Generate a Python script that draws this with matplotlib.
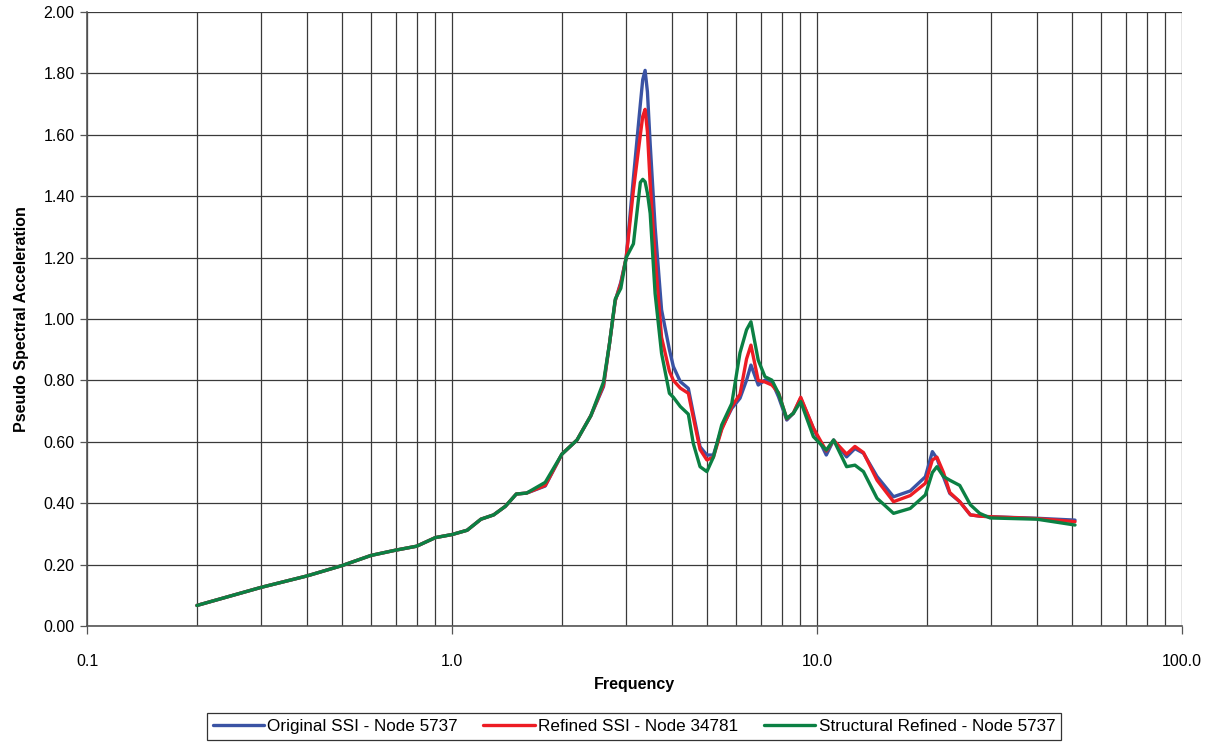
"""Pseudo spectral acceleration vs frequency for three model variants."""

import matplotlib

matplotlib.use("Agg")
import matplotlib.pyplot as plt
from matplotlib.ticker import FixedLocator, FormatStrFormatter, LogLocator, NullFormatter

# ---------------------------------------------------------------------------
# Data
# ---------------------------------------------------------------------------
FREQ = [
    0.2, 0.3, 0.4, 0.5, 0.6, 0.7, 0.8, 0.9, 1.0, 1.1, 1.2, 1.3, 1.4, 1.5, 1.6,
    1.8, 2.0, 2.2, 2.4, 2.6, 2.7, 2.8, 2.9, 3.0, 3.14, 3.28, 3.33, 3.38, 3.43,
    3.49, 3.6, 3.75, 3.94, 4.04, 4.22, 4.44, 4.58, 4.78, 4.99, 5.2, 5.48, 5.84,
    6.15, 6.41, 6.59, 6.9, 7.2, 7.52, 7.84, 8.26, 8.61, 9.02, 9.77, 10.6, 11.1,
    12.05, 12.7, 13.4, 14.6, 16.2, 18.0, 19.8, 20.7, 21.3, 22.2, 23.1, 24.6,
    26.3, 27.9, 29.8, 40.0, 50.9,
]

ORIGINAL_SSI = [
    0.067, 0.126, 0.163, 0.197, 0.230, 0.247, 0.260, 0.288, 0.298, 0.312, 0.348,
    0.362, 0.390, 0.430, 0.433, 0.456, 0.560, 0.606, 0.685, 0.780, 0.920, 1.060,
    1.120, 1.200, 1.460, 1.700, 1.780, 1.810, 1.740, 1.570, 1.300, 1.030, 0.900,
    0.845, 0.796, 0.774, 0.693, 0.584, 0.557, 0.557, 0.644, 0.709, 0.742, 0.801,
    0.850, 0.785, 0.801, 0.796, 0.747, 0.671, 0.693, 0.742, 0.644, 0.557, 0.606,
    0.551, 0.578, 0.563, 0.487, 0.421, 0.440, 0.486, 0.568, 0.546, 0.486, 0.432,
    0.405, 0.362, 0.358, 0.356, 0.351, 0.345,
]

REFINED_SSI = [
    0.067, 0.126, 0.163, 0.197, 0.230, 0.247, 0.260, 0.288, 0.298, 0.312, 0.348,
    0.362, 0.390, 0.430, 0.433, 0.458, 0.560, 0.606, 0.685, 0.785, 0.920, 1.060,
    1.115, 1.200, 1.420, 1.600, 1.660, 1.683, 1.610, 1.440, 1.200, 0.940, 0.830,
    0.800, 0.775, 0.758, 0.680, 0.575, 0.541, 0.550, 0.640, 0.715, 0.755, 0.870,
    0.915, 0.800, 0.795, 0.785, 0.760, 0.675, 0.693, 0.745, 0.645, 0.570, 0.605,
    0.560, 0.585, 0.565, 0.475, 0.405, 0.425, 0.465, 0.541, 0.550, 0.500, 0.435,
    0.405, 0.362, 0.358, 0.356, 0.350, 0.340,
]

STRUCTURAL_REFINED = [
    0.067, 0.126, 0.163, 0.197, 0.230, 0.247, 0.260, 0.288, 0.298, 0.312, 0.348,
    0.362, 0.390, 0.430, 0.433, 0.468, 0.560, 0.606, 0.685, 0.795, 0.920, 1.065,
    1.100, 1.200, 1.245, 1.445, 1.455, 1.447, 1.410, 1.344, 1.083, 0.888, 0.758,
    0.745, 0.715, 0.690, 0.595, 0.519, 0.503, 0.550, 0.655, 0.725, 0.890, 0.965,
    0.991, 0.866, 0.812, 0.801, 0.758, 0.676, 0.693, 0.731, 0.617, 0.573, 0.606,
    0.519, 0.524, 0.503, 0.416, 0.367, 0.383, 0.427, 0.500, 0.519, 0.487, 0.475,
    0.458, 0.395, 0.367, 0.352, 0.348, 0.329,
]

SERIES = [
    ("Original SSI - Node 5737", ORIGINAL_SSI, "#3a53a4"),
    ("Refined SSI - Node 34781", REFINED_SSI, "#ed1c24"),
    ("Structural Refined - Node 5737", STRUCTURAL_REFINED, "#0b8043"),
]

FONT_SIZE = 11.5
GRID_COLOR = "#3a3a3a"


def main() -> None:
    plt.rcParams.update({"font.family": ["Liberation Sans", "DejaVu Sans"], "font.size": FONT_SIZE})

    fig = plt.figure(figsize=(12.19, 7.42), dpi=100)
    ax = fig.add_axes([0.0714, 0.1563, 0.8983, 0.8275])

    for label, values, color in SERIES:
        ax.plot(FREQ, values, color=color, linewidth=2.4, label=label,
                solid_joinstyle="round", solid_capstyle="round", zorder=3)

    ax.set_xscale("log")
    ax.set_xlim(0.1, 100)
    ax.set_ylim(0, 2.0)

    ax.xaxis.set_major_locator(FixedLocator([0.1, 1, 10, 100]))
    ax.xaxis.set_major_formatter(FormatStrFormatter("%.1f"))
    ax.xaxis.set_minor_locator(LogLocator(base=10, subs=range(2, 10), numticks=20))
    ax.xaxis.set_minor_formatter(NullFormatter())
    ax.yaxis.set_major_locator(FixedLocator([i * 0.2 for i in range(11)]))
    ax.yaxis.set_major_formatter(FormatStrFormatter("%.2f"))

    ax.grid(True, which="both", color=GRID_COLOR, linewidth=0.9, zorder=1)
    ax.set_axisbelow(True)

    ax.tick_params(axis="x", which="major", length=6, width=0.9, pad=14, color="#555555")
    ax.tick_params(axis="x", which="minor", length=0)
    ax.tick_params(axis="y", which="major", length=5, width=0.9, pad=4, color="#555555")
    for side in ("top", "right"):
        ax.spines[side].set_visible(False)
    for side in ("left", "bottom"):
        ax.spines[side].set_color("#555555")
        ax.spines[side].set_linewidth(1.2)

    ax.set_xlabel("Frequency", fontweight="bold", labelpad=6)
    ax.set_ylabel("Pseudo Spectral Acceleration", fontweight="bold", labelpad=10)

    leg = fig.legend(loc="lower center", bbox_to_anchor=(0.52, -0.009), ncol=3,
                     frameon=True, fancybox=False, handlelength=3.0,
                     handletextpad=0.2, columnspacing=1.5, borderpad=0.35,
                     fontsize=12.3)
    leg.get_frame().set_edgecolor("black")
    leg.get_frame().set_linewidth(0.9)

    fig.savefig("out.png", dpi=100)
    plt.close(fig)


if __name__ == "__main__":
    main()
